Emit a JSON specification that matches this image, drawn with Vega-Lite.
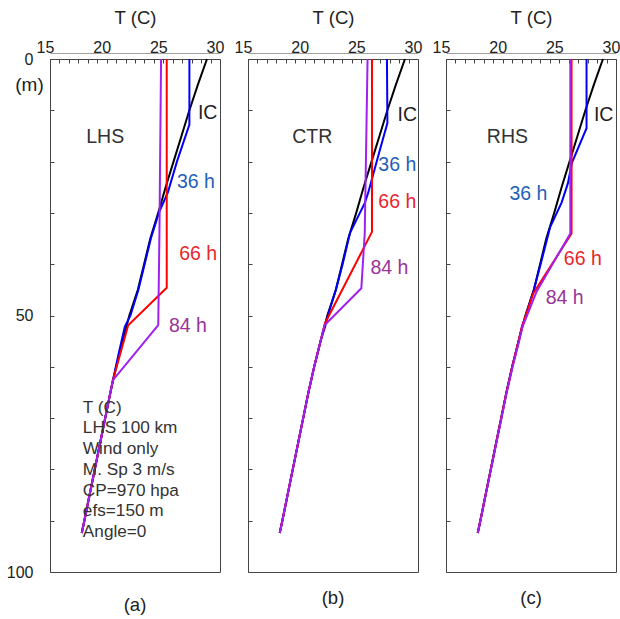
{
  "$schema": "https://vega.github.io/schema/vega-lite/v6.json",
  "padding": {"left": 5, "top": 7, "right": 2, "bottom": 5},
  "bounds": "flush",
  "spacing": 28,
  "config": {
    "font": "Liberation Sans",
    "view": {"stroke": "#444444", "strokeWidth": 1},
    "axis": {"grid": false, "labelFont": "Liberation Sans", "titleFont": "Liberation Sans", "labelColor": "#222222", "titleColor": "#222222", "titleFontWeight": "normal", "tickColor": "#444444"},
    "title": {"font": "Liberation Sans", "fontWeight": "normal", "fontSize": 18.5, "color": "#222222"},
    "text": {"font": "Liberation Sans"}
  },
  "datasets": {
    "profiles": [
      {"panel": "all", "series": "IC", "T": 28.85, "depth": 0},
      {"panel": "all", "series": "IC", "T": 28.05, "depth": 5},
      {"panel": "all", "series": "IC", "T": 27.3, "depth": 10},
      {"panel": "all", "series": "IC", "T": 26.6, "depth": 15},
      {"panel": "all", "series": "IC", "T": 25.9, "depth": 20},
      {"panel": "all", "series": "IC", "T": 25.2, "depth": 25},
      {"panel": "all", "series": "IC", "T": 24.55, "depth": 30},
      {"panel": "all", "series": "IC", "T": 23.85, "depth": 35},
      {"panel": "all", "series": "IC", "T": 23.3, "depth": 40},
      {"panel": "all", "series": "IC", "T": 22.75, "depth": 45},
      {"panel": "all", "series": "IC", "T": 22.0, "depth": 50},
      {"panel": "all", "series": "IC", "T": 21.4, "depth": 55},
      {"panel": "all", "series": "IC", "T": 20.84, "depth": 60},
      {"panel": "all", "series": "IC", "T": 20.33, "depth": 65},
      {"panel": "all", "series": "IC", "T": 19.87, "depth": 70},
      {"panel": "all", "series": "IC", "T": 19.41, "depth": 75},
      {"panel": "all", "series": "IC", "T": 18.95, "depth": 80},
      {"panel": "all", "series": "IC", "T": 18.49, "depth": 85},
      {"panel": "all", "series": "IC", "T": 18.03, "depth": 90},
      {"panel": "all", "series": "IC", "T": 17.8, "depth": 92.4},

      {"panel": "a", "series": "36 h", "T": 27.3, "depth": 0},
      {"panel": "a", "series": "36 h", "T": 27.3, "depth": 12.8},
      {"panel": "a", "series": "36 h", "T": 26.2, "depth": 20},
      {"panel": "a", "series": "36 h", "T": 25.4, "depth": 26},
      {"panel": "a", "series": "36 h", "T": 24.6, "depth": 30},
      {"panel": "a", "series": "36 h", "T": 23.9, "depth": 35},
      {"panel": "a", "series": "36 h", "T": 23.35, "depth": 40},
      {"panel": "a", "series": "36 h", "T": 22.8, "depth": 45},
      {"panel": "a", "series": "36 h", "T": 22.1, "depth": 50},
      {"panel": "a", "series": "36 h", "T": 21.6, "depth": 52.2},
      {"panel": "a", "series": "36 h", "T": 21.1, "depth": 57},
      {"panel": "a", "series": "36 h", "T": 20.55, "depth": 62.6},
      {"panel": "a", "series": "36 h", "T": 20.33, "depth": 65},
      {"panel": "a", "series": "36 h", "T": 19.87, "depth": 70},
      {"panel": "a", "series": "36 h", "T": 19.41, "depth": 75},
      {"panel": "a", "series": "36 h", "T": 18.95, "depth": 80},
      {"panel": "a", "series": "36 h", "T": 18.49, "depth": 85},
      {"panel": "a", "series": "36 h", "T": 18.03, "depth": 90},
      {"panel": "a", "series": "36 h", "T": 17.8, "depth": 92.4},

      {"panel": "a", "series": "66 h", "T": 25.3, "depth": 0},
      {"panel": "a", "series": "66 h", "T": 25.3, "depth": 44.6},
      {"panel": "a", "series": "66 h", "T": 21.9, "depth": 51.9},
      {"panel": "a", "series": "66 h", "T": 20.55, "depth": 62.6},
      {"panel": "a", "series": "66 h", "T": 20.33, "depth": 65},
      {"panel": "a", "series": "66 h", "T": 19.87, "depth": 70},
      {"panel": "a", "series": "66 h", "T": 19.41, "depth": 75},
      {"panel": "a", "series": "66 h", "T": 18.95, "depth": 80},
      {"panel": "a", "series": "66 h", "T": 18.49, "depth": 85},
      {"panel": "a", "series": "66 h", "T": 18.03, "depth": 90},
      {"panel": "a", "series": "66 h", "T": 17.8, "depth": 92.4},

      {"panel": "a", "series": "84 h", "T": 24.8, "depth": 0},
      {"panel": "a", "series": "84 h", "T": 24.65, "depth": 35},
      {"panel": "a", "series": "84 h", "T": 24.55, "depth": 51.9},
      {"panel": "a", "series": "84 h", "T": 20.55, "depth": 62.6},
      {"panel": "a", "series": "84 h", "T": 20.33, "depth": 65},
      {"panel": "a", "series": "84 h", "T": 19.87, "depth": 70},
      {"panel": "a", "series": "84 h", "T": 19.41, "depth": 75},
      {"panel": "a", "series": "84 h", "T": 18.95, "depth": 80},
      {"panel": "a", "series": "84 h", "T": 18.49, "depth": 85},
      {"panel": "a", "series": "84 h", "T": 18.03, "depth": 90},
      {"panel": "a", "series": "84 h", "T": 17.8, "depth": 92.4},

      {"panel": "b", "series": "36 h", "T": 27.26, "depth": 0},
      {"panel": "b", "series": "36 h", "T": 27.3, "depth": 12.5},
      {"panel": "b", "series": "36 h", "T": 26.64, "depth": 17.7},
      {"panel": "b", "series": "36 h", "T": 25.6, "depth": 26.1},
      {"panel": "b", "series": "36 h", "T": 25.3, "depth": 28.1},
      {"panel": "b", "series": "36 h", "T": 24.0, "depth": 33.9},
      {"panel": "b", "series": "36 h", "T": 23.35, "depth": 40},
      {"panel": "b", "series": "36 h", "T": 22.75, "depth": 45},
      {"panel": "b", "series": "36 h", "T": 22.05, "depth": 50},
      {"panel": "b", "series": "36 h", "T": 21.8, "depth": 52.2},
      {"panel": "b", "series": "36 h", "T": 21.4, "depth": 55},
      {"panel": "b", "series": "36 h", "T": 20.84, "depth": 60},
      {"panel": "b", "series": "36 h", "T": 20.33, "depth": 65},
      {"panel": "b", "series": "36 h", "T": 19.87, "depth": 70},
      {"panel": "b", "series": "36 h", "T": 19.41, "depth": 75},
      {"panel": "b", "series": "36 h", "T": 18.95, "depth": 80},
      {"panel": "b", "series": "36 h", "T": 18.49, "depth": 85},
      {"panel": "b", "series": "36 h", "T": 18.03, "depth": 90},
      {"panel": "b", "series": "36 h", "T": 17.8, "depth": 92.4},

      {"panel": "b", "series": "66 h", "T": 25.94, "depth": 0},
      {"panel": "b", "series": "66 h", "T": 25.94, "depth": 33.7},
      {"panel": "b", "series": "66 h", "T": 21.8, "depth": 51.5},
      {"panel": "b", "series": "66 h", "T": 21.4, "depth": 55},
      {"panel": "b", "series": "66 h", "T": 20.84, "depth": 60},
      {"panel": "b", "series": "66 h", "T": 20.33, "depth": 65},
      {"panel": "b", "series": "66 h", "T": 19.87, "depth": 70},
      {"panel": "b", "series": "66 h", "T": 19.41, "depth": 75},
      {"panel": "b", "series": "66 h", "T": 18.95, "depth": 80},
      {"panel": "b", "series": "66 h", "T": 18.49, "depth": 85},
      {"panel": "b", "series": "66 h", "T": 18.03, "depth": 90},
      {"panel": "b", "series": "66 h", "T": 17.8, "depth": 92.4},

      {"panel": "b", "series": "84 h", "T": 25.55, "depth": 0},
      {"panel": "b", "series": "84 h", "T": 25.3, "depth": 34},
      {"panel": "b", "series": "84 h", "T": 25.0, "depth": 44.7},
      {"panel": "b", "series": "84 h", "T": 21.75, "depth": 51.9},
      {"panel": "b", "series": "84 h", "T": 21.4, "depth": 55},
      {"panel": "b", "series": "84 h", "T": 20.84, "depth": 60},
      {"panel": "b", "series": "84 h", "T": 20.33, "depth": 65},
      {"panel": "b", "series": "84 h", "T": 19.87, "depth": 70},
      {"panel": "b", "series": "84 h", "T": 19.41, "depth": 75},
      {"panel": "b", "series": "84 h", "T": 18.95, "depth": 80},
      {"panel": "b", "series": "84 h", "T": 18.49, "depth": 85},
      {"panel": "b", "series": "84 h", "T": 18.03, "depth": 90},
      {"panel": "b", "series": "84 h", "T": 17.8, "depth": 92.4},

      {"panel": "c", "series": "36 h", "T": 27.4, "depth": 0},
      {"panel": "c", "series": "36 h", "T": 27.4, "depth": 13.5},
      {"panel": "c", "series": "36 h", "T": 26.1, "depth": 20.3},
      {"panel": "c", "series": "36 h", "T": 25.76, "depth": 24.2},
      {"panel": "c", "series": "36 h", "T": 25.2, "depth": 28},
      {"panel": "c", "series": "36 h", "T": 24.2, "depth": 32.7},
      {"panel": "c", "series": "36 h", "T": 23.35, "depth": 40},
      {"panel": "c", "series": "36 h", "T": 22.75, "depth": 45},
      {"panel": "c", "series": "36 h", "T": 22.05, "depth": 50},
      {"panel": "c", "series": "36 h", "T": 21.7, "depth": 52.2},
      {"panel": "c", "series": "36 h", "T": 21.4, "depth": 55},
      {"panel": "c", "series": "36 h", "T": 20.84, "depth": 60},
      {"panel": "c", "series": "36 h", "T": 20.33, "depth": 65},
      {"panel": "c", "series": "36 h", "T": 19.87, "depth": 70},
      {"panel": "c", "series": "36 h", "T": 19.41, "depth": 75},
      {"panel": "c", "series": "36 h", "T": 18.95, "depth": 80},
      {"panel": "c", "series": "36 h", "T": 18.49, "depth": 85},
      {"panel": "c", "series": "36 h", "T": 18.03, "depth": 90},
      {"panel": "c", "series": "36 h", "T": 17.8, "depth": 92.4},

      {"panel": "c", "series": "66 h", "T": 26.08, "depth": 0},
      {"panel": "c", "series": "66 h", "T": 26.08, "depth": 34},
      {"panel": "c", "series": "66 h", "T": 22.7, "depth": 45.7},
      {"panel": "c", "series": "66 h", "T": 21.7, "depth": 52.2},
      {"panel": "c", "series": "66 h", "T": 21.4, "depth": 55},
      {"panel": "c", "series": "66 h", "T": 20.84, "depth": 60},
      {"panel": "c", "series": "66 h", "T": 20.33, "depth": 65},
      {"panel": "c", "series": "66 h", "T": 19.87, "depth": 70},
      {"panel": "c", "series": "66 h", "T": 19.41, "depth": 75},
      {"panel": "c", "series": "66 h", "T": 18.95, "depth": 80},
      {"panel": "c", "series": "66 h", "T": 18.49, "depth": 85},
      {"panel": "c", "series": "66 h", "T": 18.03, "depth": 90},
      {"panel": "c", "series": "66 h", "T": 17.8, "depth": 92.4},

      {"panel": "c", "series": "84 h", "T": 25.97, "depth": 0},
      {"panel": "c", "series": "84 h", "T": 25.97, "depth": 34},
      {"panel": "c", "series": "84 h", "T": 23.0, "depth": 45.3},
      {"panel": "c", "series": "84 h", "T": 21.75, "depth": 52.2},
      {"panel": "c", "series": "84 h", "T": 21.45, "depth": 55},
      {"panel": "c", "series": "84 h", "T": 20.88, "depth": 60},
      {"panel": "c", "series": "84 h", "T": 20.36, "depth": 65},
      {"panel": "c", "series": "84 h", "T": 19.9, "depth": 70},
      {"panel": "c", "series": "84 h", "T": 19.43, "depth": 75},
      {"panel": "c", "series": "84 h", "T": 18.97, "depth": 80},
      {"panel": "c", "series": "84 h", "T": 18.5, "depth": 85},
      {"panel": "c", "series": "84 h", "T": 18.04, "depth": 90},
      {"panel": "c", "series": "84 h", "T": 17.8, "depth": 92.4}
    ],
    "labels": [
      {"panel": "a", "kind": "IC", "text": "IC", "T": 28.05, "depth": 10.5},
      {"panel": "a", "kind": "name", "text": "LHS", "T": 18.2, "depth": 15.2},
      {"panel": "a", "kind": "36 h", "text": "36 h", "T": 26.2, "depth": 24},
      {"panel": "a", "kind": "66 h", "text": "66 h", "T": 26.4, "depth": 38},
      {"panel": "a", "kind": "84 h", "text": "84 h", "T": 25.5, "depth": 52},
      {"panel": "b", "kind": "IC", "text": "IC", "T": 28.2, "depth": 10.9},
      {"panel": "b", "kind": "name", "text": "CTR", "T": 18.9, "depth": 15.2},
      {"panel": "b", "kind": "36 h", "text": "36 h", "T": 26.5, "depth": 20.7},
      {"panel": "b", "kind": "66 h", "text": "66 h", "T": 26.5, "depth": 27.9},
      {"panel": "b", "kind": "84 h", "text": "84 h", "T": 25.8, "depth": 40.7},
      {"panel": "c", "kind": "IC", "text": "IC", "T": 28.05, "depth": 10.9},
      {"panel": "c", "kind": "name", "text": "RHS", "T": 18.6, "depth": 15.2},
      {"panel": "c", "kind": "36 h", "text": "36 h", "T": 20.6, "depth": 26.3},
      {"panel": "c", "kind": "66 h", "text": "66 h", "T": 25.4, "depth": 39},
      {"panel": "c", "kind": "84 h", "text": "84 h", "T": 23.8, "depth": 46.6}
    ],
    "notes": [
      {"panel": "a", "text": "T (C)\nLHS 100 km\nWind only\nM. Sp 3 m/s\nCP=970 hpa\nefs=150 m\nAngle=0", "T": 17.9, "depth": 68.95}
    ]
  },
  "hconcat": [
    {
      "width": 170, "height": 513,
      "title": {"text": "(a)", "orient": "bottom", "anchor": "middle", "offset": 16},
      "encoding": {
        "y": {"field": "depth", "type": "quantitative",
          "scale": {"domain": [0, 100], "reverse": true, "nice": false, "zero": false},
          "axis": {"values": [0, 10, 20, 30, 40, 50, 60, 70, 80, 90, 100], "tickSize": -4, "domain": false,
            "labelExpr": "datum.value % 50 === 0 ? datum.label : ''", "labelFontSize": 16, "labelPadding": 21,
            "title": "(m)", "titleAngle": 0, "titleX": -21, "titleY": 25, "titleAlign": "center", "titleBaseline": "middle", "titleFontSize": 19}}
      },
      "layer": [
        {
          "data": {"name": "profiles"},
          "transform": [{"filter": "datum.panel === 'a' || datum.panel === 'all'"}],
          "mark": {"type": "line", "strokeWidth": 2},
          "encoding": {
            "x": {"field": "T", "type": "quantitative", "scale": {"domain": [15, 30], "nice": false, "zero": false},
              "axis": {"orient": "top", "domain": false, "labels": false, "title": null, "tickSize": -4,
                "values": [15, 15.8333, 16.6667, 17.5, 18.3333, 19.1667, 20, 20.8333, 21.6667, 22.5, 23.3333, 24.1667, 25, 25.8333, 26.6667, 27.5, 28.3333, 29.1667, 30]}},
            "color": {"field": "series", "type": "nominal", "scale": {"domain": ["IC", "36 h", "66 h", "84 h"], "range": ["#000000", "#0000ff", "#ff0000", "#a020f0"]}, "legend": null},
            "order": {"field": "depth", "type": "quantitative"}
          }
        },
        {
          "data": {"name": "labels"},
          "transform": [{"filter": "datum.panel === 'a'"}],
          "mark": {"type": "text", "align": "left", "baseline": "middle", "fontSize": 19.5},
          "encoding": {
            "x": {"field": "T", "type": "quantitative", "scale": {"domain": [15, 30], "nice": false, "zero": false},
              "axis": {"orient": "top", "offset": 6, "domain": true, "domainColor": "#888888", "domainWidth": 0.8, "ticks": false,
                "values": [15, 20, 25, 30], "labelFontSize": 16, "labelPadding": -2, "labelOffset": -5, "labelFlush": false,
                "title": "T (C)", "titleFontSize": 18.5, "titlePadding": 12}},
            "text": {"field": "text"},
            "color": {"field": "kind", "type": "nominal", "scale": {"domain": ["IC", "name", "36 h", "66 h", "84 h"], "range": ["#222222", "#333333", "#1f5fb8", "#e8262b", "#9a3399"]}, "legend": null}
          }
        },
        {
          "data": {"name": "notes"},
          "mark": {"type": "text", "align": "left", "baseline": "alphabetic", "fontSize": 17.2, "lineBreak": "\n", "lineHeight": 20.7, "color": "#333333"},
          "encoding": {
            "x": {"field": "T", "type": "quantitative", "scale": {"domain": [15, 30], "nice": false, "zero": false}, "axis": null},
            "text": {"field": "text"}
          }
        }
      ],
      "resolve": {"scale": {"color": "independent"}, "axis": {"x": "independent"}}
    },
    {
      "width": 170, "height": 513,
      "title": {"text": "(b)", "orient": "bottom", "anchor": "middle", "offset": 16},
      "encoding": {
        "y": {"field": "depth", "type": "quantitative",
          "scale": {"domain": [0, 100], "reverse": true, "nice": false, "zero": false},
          "axis": {"values": [0, 10, 20, 30, 40, 50, 60, 70, 80, 90, 100], "tickSize": -4, "domain": false, "labels": false, "title": null}}
      },
      "layer": [
        {
          "data": {"name": "profiles"},
          "transform": [{"filter": "datum.panel === 'b' || datum.panel === 'all'"}],
          "mark": {"type": "line", "strokeWidth": 2},
          "encoding": {
            "x": {"field": "T", "type": "quantitative", "scale": {"domain": [15, 30], "nice": false, "zero": false},
              "axis": {"orient": "top", "domain": false, "labels": false, "title": null, "tickSize": -4,
                "values": [15, 15.8333, 16.6667, 17.5, 18.3333, 19.1667, 20, 20.8333, 21.6667, 22.5, 23.3333, 24.1667, 25, 25.8333, 26.6667, 27.5, 28.3333, 29.1667, 30]}},
            "color": {"field": "series", "type": "nominal", "scale": {"domain": ["IC", "36 h", "66 h", "84 h"], "range": ["#000000", "#0000ff", "#ff0000", "#a020f0"]}, "legend": null},
            "order": {"field": "depth", "type": "quantitative"}
          }
        },
        {
          "data": {"name": "labels"},
          "transform": [{"filter": "datum.panel === 'b'"}],
          "mark": {"type": "text", "align": "left", "baseline": "middle", "fontSize": 19.5},
          "encoding": {
            "x": {"field": "T", "type": "quantitative", "scale": {"domain": [15, 30], "nice": false, "zero": false},
              "axis": {"orient": "top", "offset": 6, "domain": true, "domainColor": "#888888", "domainWidth": 0.8, "ticks": false,
                "values": [15, 20, 25, 30], "labelFontSize": 16, "labelPadding": -2, "labelOffset": -5, "labelFlush": false,
                "title": "T (C)", "titleFontSize": 18.5, "titlePadding": 12}},
            "text": {"field": "text"},
            "color": {"field": "kind", "type": "nominal", "scale": {"domain": ["IC", "name", "36 h", "66 h", "84 h"], "range": ["#222222", "#333333", "#1f5fb8", "#e8262b", "#9a3399"]}, "legend": null}
          }
        }
      ],
      "resolve": {"scale": {"color": "independent"}, "axis": {"x": "independent"}}
    },
    {
      "width": 170, "height": 513,
      "title": {"text": "(c)", "orient": "bottom", "anchor": "middle", "offset": 16},
      "encoding": {
        "y": {"field": "depth", "type": "quantitative",
          "scale": {"domain": [0, 100], "reverse": true, "nice": false, "zero": false},
          "axis": {"values": [0, 10, 20, 30, 40, 50, 60, 70, 80, 90, 100], "tickSize": -4, "domain": false, "labels": false, "title": null}}
      },
      "layer": [
        {
          "data": {"name": "profiles"},
          "transform": [{"filter": "datum.panel === 'c' || datum.panel === 'all'"}],
          "mark": {"type": "line", "strokeWidth": 2},
          "encoding": {
            "x": {"field": "T", "type": "quantitative", "scale": {"domain": [15, 30], "nice": false, "zero": false},
              "axis": {"orient": "top", "domain": false, "labels": false, "title": null, "tickSize": -4,
                "values": [15, 15.8333, 16.6667, 17.5, 18.3333, 19.1667, 20, 20.8333, 21.6667, 22.5, 23.3333, 24.1667, 25, 25.8333, 26.6667, 27.5, 28.3333, 29.1667, 30]}},
            "color": {"field": "series", "type": "nominal", "scale": {"domain": ["IC", "36 h", "66 h", "84 h"], "range": ["#000000", "#0000ff", "#ff0000", "#a020f0"]}, "legend": null},
            "order": {"field": "depth", "type": "quantitative"}
          }
        },
        {
          "data": {"name": "labels"},
          "transform": [{"filter": "datum.panel === 'c'"}],
          "mark": {"type": "text", "align": "left", "baseline": "middle", "fontSize": 19.5},
          "encoding": {
            "x": {"field": "T", "type": "quantitative", "scale": {"domain": [15, 30], "nice": false, "zero": false},
              "axis": {"orient": "top", "offset": 6, "domain": true, "domainColor": "#888888", "domainWidth": 0.8, "ticks": false,
                "values": [15, 20, 25, 30], "labelFontSize": 16, "labelPadding": -2, "labelOffset": -5, "labelFlush": false,
                "title": "T (C)", "titleFontSize": 18.5, "titlePadding": 12}},
            "text": {"field": "text"},
            "color": {"field": "kind", "type": "nominal", "scale": {"domain": ["IC", "name", "36 h", "66 h", "84 h"], "range": ["#222222", "#333333", "#1f5fb8", "#e8262b", "#9a3399"]}, "legend": null}
          }
        }
      ],
      "resolve": {"scale": {"color": "independent"}, "axis": {"x": "independent"}}
    }
  ]
}
